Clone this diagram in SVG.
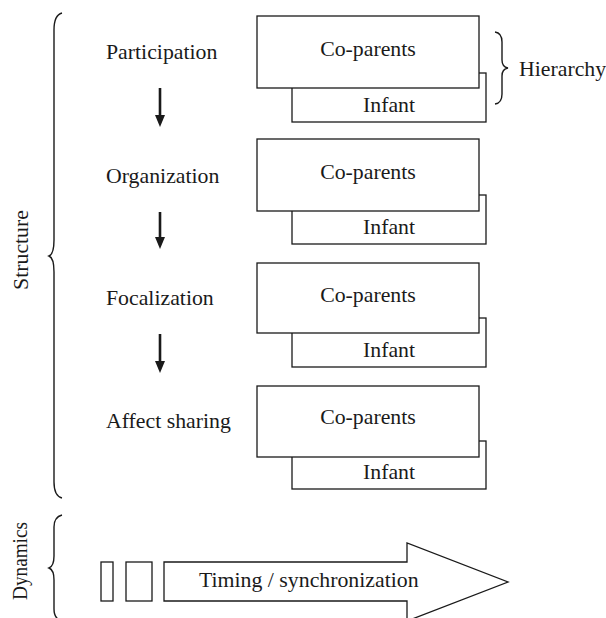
<svg xmlns="http://www.w3.org/2000/svg" width="606" height="618" viewBox="0 0 606 618">
<style>
text{font-family:"Liberation Serif","Times New Roman",serif;font-size:21.8px;fill:#1a1a1a}
.box{fill:#fff;stroke:#1a1a1a;stroke-width:1.3}
.brace{fill:none;stroke:#1a1a1a;stroke-width:1.4}
.step{stroke:#1a1a1a;stroke-width:2.6}
.mid{text-anchor:middle}
</style>
<defs>
<marker id="ah" markerWidth="12" markerHeight="10" refX="2" refY="5" orient="auto" markerUnits="userSpaceOnUse" viewBox="0 0 12 10">
<polygon points="0,0 12,5 0,10" fill="#1a1a1a"/>
</marker>
</defs>
<rect width="606" height="618" fill="#fff"/>

<g id="structure-label">
<path class="brace" d="M62,13 Q54,15 54,30 L54,240 Q54,254 49,256 Q54,258 54,272 L54,482 Q54,496 62,498"/>
<text class="mid" transform="translate(28,250) rotate(-90)">Structure</text>
</g>

<g id="participation">
<text x="106" y="59">Participation</text>
<rect class="box" x="292" y="73" width="194" height="49"/>
<rect class="box" x="257" y="16" width="222" height="72"/>
<text class="mid" x="368" y="56">Co-parents</text>
<text class="mid" x="389" y="112">Infant</text>
</g>

<g id="hierarchy">
<path class="brace" d="M495,32 Q502,33 502,42 L502,60 Q502,67 508,68 Q502,69 502,76 L502,94 Q502,103 495,104"/>
<text x="519" y="76">Hierarchy</text>
</g>

<g id="organization">
<text x="106" y="183">Organization</text>
<rect class="box" x="292" y="195" width="194" height="49"/>
<rect class="box" x="257" y="139" width="222" height="72"/>
<text class="mid" x="368" y="179">Co-parents</text>
<text class="mid" x="389" y="234">Infant</text>
</g>

<g id="focalization">
<text x="106" y="305">Focalization</text>
<rect class="box" x="292" y="318" width="194" height="49"/>
<rect class="box" x="257" y="263" width="222" height="70"/>
<text class="mid" x="368" y="302">Co-parents</text>
<text class="mid" x="389" y="357">Infant</text>
</g>

<g id="affect-sharing">
<text x="106" y="428">Affect sharing</text>
<rect class="box" x="292" y="441" width="194" height="48"/>
<rect class="box" x="257" y="386" width="222" height="71"/>
<text class="mid" x="368" y="424">Co-parents</text>
<text class="mid" x="389" y="479">Infant</text>
</g>

<g id="connectors">
<line class="step" x1="160" y1="88" x2="160" y2="117" marker-end="url(#ah)"/>
<line class="step" x1="160" y1="212" x2="160" y2="239" marker-end="url(#ah)"/>
<line class="step" x1="160" y1="334" x2="160" y2="363" marker-end="url(#ah)"/>
</g>

<g id="dynamics">
<path class="brace" d="M62,515 Q54,517 54,527 L54,556 Q54,566 49,568 Q54,570 54,580 L54,609 Q54,619 62,621"/>
<text class="mid" transform="translate(27,561) rotate(-90)" textLength="78" lengthAdjust="spacingAndGlyphs">Dynamics</text>
<rect class="box" x="101" y="562" width="12" height="39"/>
<rect class="box" x="126" y="562" width="26" height="39"/>
<polygon class="box" points="164,562 407,562 407,543 508,582 407,621 407,601 164,601"/>
<text x="199" y="587">Timing / synchronization</text>
</g>
</svg>
